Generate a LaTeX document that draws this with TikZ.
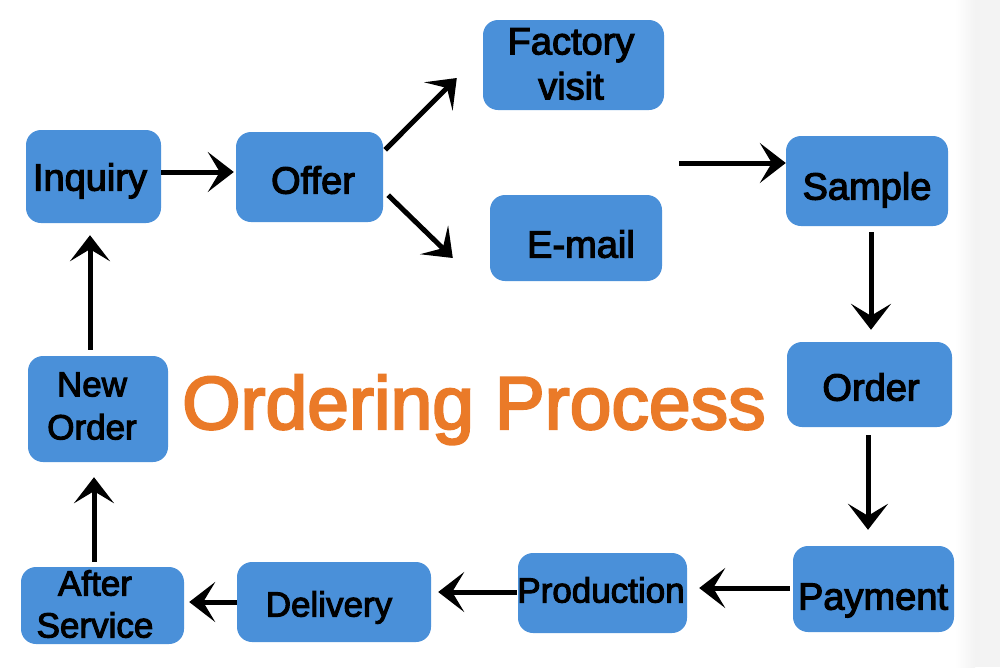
\documentclass[tikz,border=0pt]{standalone}
\usepackage{fontspec}
\setmainfont{Liberation Sans}[BoldFont={Liberation Sans},BoldFeatures={FakeBold=3}]
\usetikzlibrary{arrows.meta}
\definecolor{boxblue}{RGB}{74,144,217}
\definecolor{titleorange}{RGB}{234,122,40}
\definecolor{stripgray}{RGB}{243,243,243}
\tikzset{
  box/.style={draw=none, fill=boxblue, rounded corners=15pt, inner sep=0pt},
  lbl/.style={inner sep=0pt, text height=27.2pt, text depth=0pt, font=\fontsize{38}{45}\selectfont\bfseries},
  lbls/.style={inner sep=0pt, text height=25pt, text depth=0pt, font=\fontsize{35}{42}\selectfont\bfseries},
  mlbl/.style={inner sep=0pt, align=center},
  arr/.style={line width=5pt, -{Stealth[length=26pt,width=40pt,inset=12pt]}}
}
\begin{document}
\begin{tikzpicture}[x=1pt,y=-1pt]
\useasboundingbox (0,0) rectangle (1000,667);
\fill[white] (0,0) rectangle (1000,667);
\shade[left color=white, right color=stripgray] (955,0) rectangle (975,667);
\fill[stripgray] (975,0) rectangle (1000,667);

% boxes
\node[box, minimum width=135pt, minimum height=93pt] (inq) at (93.5,176.5) {};
\node[box, minimum width=147pt, minimum height=90pt] (off) at (309.5,177) {};
\node[box, minimum width=181pt, minimum height=90pt] (fac) at (573.5,65) {};
\node[box, minimum width=172pt, minimum height=86pt] (eml) at (576,238) {};
\node[box, minimum width=162pt, minimum height=90pt] (sam) at (867,181) {};
\node[box, minimum width=165pt, minimum height=85pt] (ord) at (869.5,384.5) {};
\node[box, minimum width=161pt, minimum height=86pt] (pay) at (873.5,589) {};
\node[box, minimum width=169pt, minimum height=80pt] (pro) at (602.5,593) {};
\node[box, minimum width=194pt, minimum height=80pt] (del) at (334,602) {};
\node[box, minimum width=163pt, minimum height=77pt] (aft) at (102.5,605.5) {};
\node[box, minimum width=140pt, minimum height=106pt] (new) at (98,409) {};

% labels
\node[lbl] (tinq) at (90,177) {Inquiry};
\node[lbl] (toff) at (313,180) {Offer};
\node[mlbl, font=\fontsize{38}{45}\selectfont\bfseries] (tfac) at (571,64) {Factory\\visit};
\node[lbl] (teml) at (581,244) {E-mail};
\node[lbl] (tsam) at (867,186) {Sample};
\node[lbl] (tord) at (871,387) {Order};
\node[lbl] (tpay) at (873,596) {Payment};
\node[lbls] (tpro) at (601,590) {Production};
\node[lbls] (tdel) at (329,604) {Delivery};
\node[mlbl, font=\fontsize{35}{42}\selectfont\bfseries] (taft) at (95,604) {After\\Service};
\node[mlbl, font=\fontsize{35}{43}\selectfont\bfseries] (tnew) at (92,406) {New\\Order};

% title
\node[anchor=base west, inner sep=0pt, text=titleorange, font=\fontsize{75}{80}\selectfont\bfseries] (title) at (182,429) {Ordering Process};

% connectors
\coordinate (branch) at (679,163);
\draw[arr] ([yshift=4.5pt]inq.east) -- ([yshift=5pt,xshift=-2pt]off.west);
\draw[arr] ([xshift=2pt,yshift=-18pt]off.north east) -- ([xshift=-26pt,yshift=-13pt]fac.west);
\draw[arr] ([xshift=5pt,yshift=27pt]off.south east) -- ([xshift=-37pt,yshift=-20pt]eml.west);
\draw[arr] (branch) -- ([yshift=18pt]sam.west);
\draw[arr] ([xshift=4pt,yshift=-6pt]sam.south) -- ([xshift=1.5pt,yshift=12pt]ord.north);
\draw[arr] ([xshift=-1.5pt,yshift=-8pt]ord.south) -- ([xshift=-5.5pt,yshift=16pt]pay.north);
\draw[arr] ([xshift=-3pt,yshift=1pt]pay.west) -- ([xshift=12pt,yshift=5pt]pro.east);
\draw[arr] ([xshift=-1pt,yshift=1pt]pro.west) -- ([xshift=7pt,yshift=10pt]del.east);
\draw[arr] ([yshift=0pt]del.west) -- ([xshift=5pt,yshift=3.5pt]aft.east);
\draw[arr] ([xshift=-8.5pt,yshift=5pt]aft.north) -- ([xshift=-4pt,yshift=-15pt]new.south);
\draw[arr] ([xshift=-8pt,yshift=6pt]new.north) -- ([xshift=-3.5pt,yshift=-12pt]inq.south);
\end{tikzpicture}
\end{document}
